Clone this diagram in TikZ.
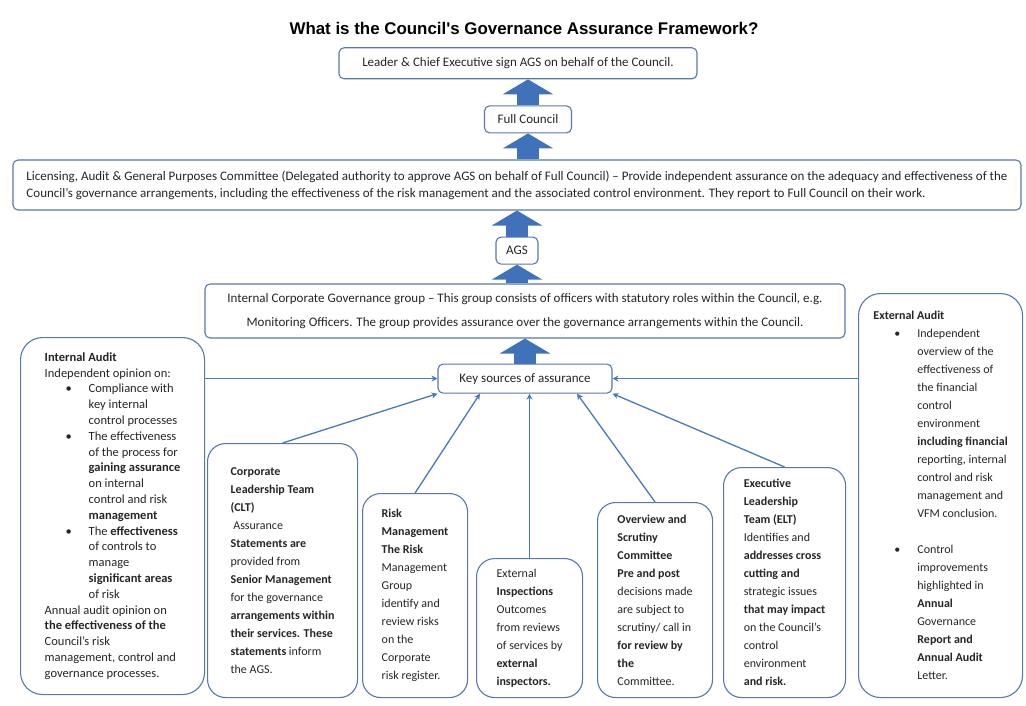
\documentclass[tikz,border=0pt]{standalone}
\usepackage{fontspec}
\setmainfont{Carlito}
\newfontfamily\titlefont{Liberation Sans}
\usetikzlibrary{positioning,arrows.meta}
\definecolor{boxblue}{HTML}{5877AE}
\definecolor{arrowblue}{HTML}{3F72B8}
\definecolor{lineblue}{HTML}{4A78BC}
\newcommand{\bitem}{\hspace*{44pt}\llap{\textbullet\hspace{17pt}}}
\newcommand{\bcont}{\hspace*{44pt}}

\begin{document}
\begin{tikzpicture}[x=1pt, y=-1pt, node distance=26pt,
    box/.style={draw=boxblue, line width=1.1pt, fill=white, rounded corners=5pt,
        text=black!85, font=\fontsize{13}{17}\selectfont},
    srcbox/.style={draw=boxblue, line width=1.1pt, fill=white, rounded corners=18pt,
        anchor=north west, align=left, text=black!85, font=\fontsize{12}{18}\selectfont},
    feed/.style={draw=lineblue, line width=1.3pt, -{Stealth[length=6pt,width=6pt]}},
    fatarrow/.style={draw=arrowblue, line width=22pt, -{Triangle[width=50pt,length=15pt]}}]
    \useasboundingbox (0,0) rectangle (1026,706);

    \node[font=\titlefont\bfseries\fontsize{16.9}{20}\selectfont] (title) at (524,28)
        {What is the Council's Governance Assurance Framework?};

    % central column
    \node[box, minimum width=1008pt, minimum height=50pt, align=left, inner xsep=8pt] (long) at (517,185) {
        Licensing, Audit \& General Purposes Committee (Delegated authority to approve AGS on behalf of Full Council) -- Provide independent assurance on the adequacy and effectiveness of the\\
        Council's governance arrangements, including the effectiveness of the risk management and the associated control environment. They report to Full Council on their work.
    };
    \node[box, minimum width=87pt, minimum height=27pt, above=26pt of long, xshift=11pt] (full) {Full Council};
    \node[box, minimum width=358pt, minimum height=31pt, above=26pt of full, xshift=-10pt] (leader) {
        Leader \& Chief Executive sign AGS on behalf of the Council.
    };
    \node[box, minimum width=42pt, minimum height=27pt, below=26pt of long] (ags) {AGS};
    \node[box, minimum width=640pt, minimum height=54pt, align=center,
        font=\fontsize{13}{24}\selectfont] (icg) at (525,311) {
        Internal Corporate Governance group -- This group consists of officers with statutory roles within the Council, e.g.\\
        Monitoring Officers. The group provides assurance over the governance arrangements within the Council.
    };
    \node[box, minimum width=174pt, minimum height=29pt, below=25pt of icg] (key) {Key sources of assurance};

    % sources of assurance
    \node[srcbox, minimum width=184pt, minimum height=357pt, rounded corners=22pt,
        font=\fontsize{12.5}{15.8}\selectfont] (ia) at (20,337) {
        \textbf{Internal Audit}\\
        Independent opinion on:\\
        \bitem Compliance with\\
        \bcont key internal\\
        \bcont control processes\\
        \bitem The effectiveness\\
        \bcont of the process for\\
        \bcont \textbf{gaining assurance}\\
        \bcont on internal\\
        \bcont control and risk\\
        \bcont \textbf{management}\\
        \bitem The \textbf{effectiveness}\\
        \bcont of controls to\\
        \bcont manage\\
        \bcont \textbf{significant areas}\\
        \bcont of risk\\
        Annual audit opinion on\\
        \textbf{the effectiveness of the}\\
        Council's risk\\
        management, control and\\
        governance processes.
    };
    \node[srcbox, minimum width=150pt, minimum height=254pt] (clt) at (207,443) {
        \textbf{Corporate}\\
        \textbf{Leadership Team}\\
        \textbf{(CLT)}\\
        \ Assurance\\
        \textbf{Statements are}\\
        provided from\\
        \textbf{Senior Management}\\
        for the governance\\
        \textbf{arrangements within}\\
        \textbf{their services. These}\\
        \textbf{statements} inform\\
        the AGS.
    };
    \node[srcbox, minimum width=105pt, minimum height=204pt] (risk) at (362,493) {
        \textbf{Risk}\\
        \textbf{Management}\\
        \textbf{The Risk}\\
        Management\\
        Group\\
        identify and\\
        review risks\\
        on the\\
        Corporate\\
        risk register.
    };
    \node[srcbox, minimum width=106pt, minimum height=139pt] (insp) at (476,558) {
        External\\
        \textbf{Inspections}\\
        Outcomes\\
        from reviews\\
        of services by\\
        \textbf{external}\\
        \textbf{inspectors.}
    };
    \node[srcbox, minimum width=115pt, minimum height=195pt] (osc) at (597,502) {
        \textbf{Overview and}\\
        \textbf{Scrutiny}\\
        \textbf{Committee}\\
        \textbf{Pre and post}\\
        decisions made\\
        are subject to\\
        scrutiny/ call in\\
        \textbf{for review by}\\
        \textbf{the}\\
        Committee.
    };
    \node[srcbox, minimum width=122pt, minimum height=230pt] (elt) at (723,467) {
        \textbf{Executive}\\
        \textbf{Leadership}\\
        \textbf{Team (ELT)}\\
        Identifies and\\
        \textbf{addresses cross}\\
        \textbf{cutting and}\\
        strategic issues\\
        \textbf{that may impact}\\
        on the Council's\\
        control\\
        environment\\
        \textbf{and risk.}
    };
    \node[srcbox, minimum width=164pt, minimum height=404pt, rounded corners=22pt] (ea) at (858,293) {
        \textbf{External Audit}\\
        \bitem Independent\\
        \bcont overview of the\\
        \bcont effectiveness of\\
        \bcont the financial\\
        \bcont control\\
        \bcont environment\\
        \bcont \textbf{including financial}\\
        \bcont reporting, internal\\
        \bcont control and risk\\
        \bcont management and\\
        \bcont VFM conclusion.\\[18pt]
        \bitem Control\\
        \bcont improvements\\
        \bcont highlighted in\\
        \bcont \textbf{Annual}\\
        \bcont Governance\\
        \bcont \textbf{Report and}\\
        \bcont \textbf{Annual Audit}\\
        \bcont Letter.
    };

    % block arrows up the column
    \draw[fatarrow] (full.north) -- (full.north |- leader.south);
    \draw[fatarrow] (full.south |- long.north) -- (full.south);
    \draw[fatarrow] (ags.north) -- (ags.north |- long.south);
    \draw[fatarrow] (ags.south |- icg.north) -- (ags.south);
    \draw[fatarrow] (key.north) -- (key.north |- icg.south);

    % feeds into key sources
    \draw[feed] (ia.east |- key.west) -- (key.west);
    \draw[feed] (clt.north) -- (key.south west);
    \draw[feed] (risk.north) -- ([xshift=-45pt]key.south);
    \draw[feed] (insp.north) -- (insp.north |- key.south);
    \draw[feed] (osc.north) -- ([xshift=52pt]key.south);
    \draw[feed] (elt.north) -- (key.south east);
    \draw[feed] (ea.west |- key.east) -- (key.east);
\end{tikzpicture}
\end{document}
